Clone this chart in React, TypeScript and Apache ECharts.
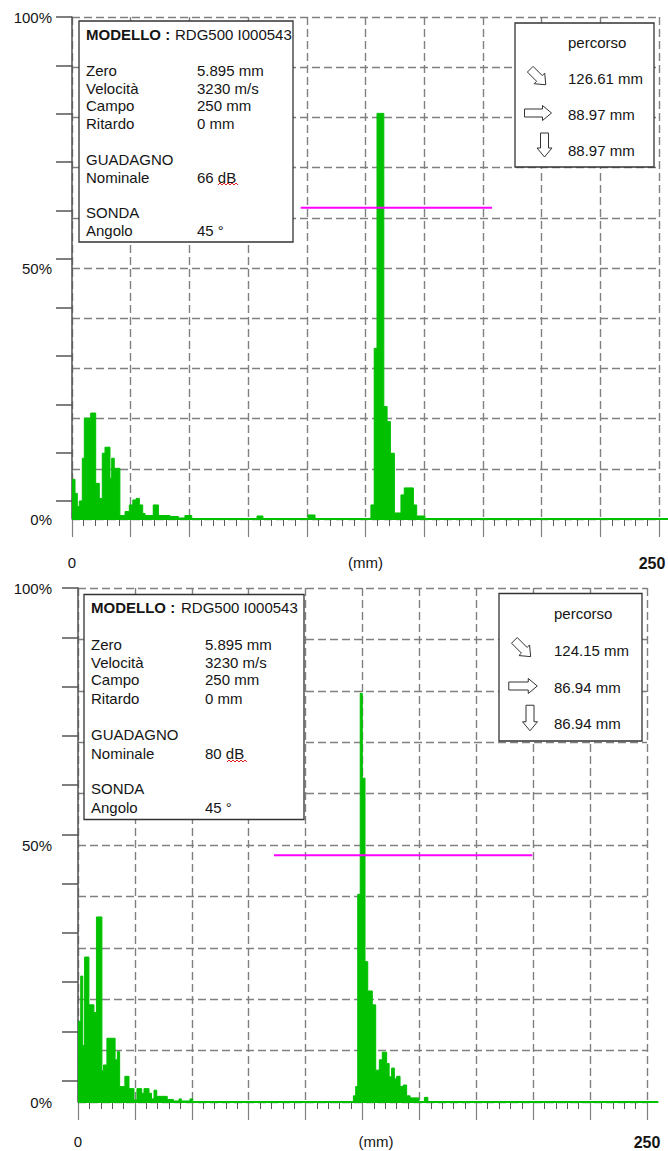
import React, { useEffect, useRef } from 'react';
import * as echarts from 'echarts';

// ---------- data ----------
// Upper A-scan: distance (mm) where each step starts, amplitude (% FSH)
const TOP_DIST = [0, 1.28, 2.26, 3.11, 4.39, 5.24, 7.96, 10.09, 11.63, 12.9, 14.05, 16.18, 16.9, 18.0, 20.4, 22.6, 24.4, 25.9, 27.3, 28.7, 30.1, 31.1, 34.6, 36.8, 41.7, 45.3, 48.1, 51.0, 78.8, 81.3, 100.5, 103.5, 127.3, 128.7, 129.9, 132.8, 134.2, 135.6, 137.3, 140.1, 141.5, 145.4, 146.8, 150.3, 250];
const TOP_AMP = [7.9, 5.1, 2.5, 3.6, 12.1, 20.1, 21.1, 7.1, 4.1, 13.1, 14.3, 8.1, 12.1, 10.1, 0.7, 1.5, 2.8, 3.8, 4.1, 2.8, 1.1, 0.7, 2.8, 0.7, 0.5, 0.2, 0.7, 0, 0.6, 0, 0.8, 0, 2.8, 34, 80.8, 22.4, 19.4, 13.1, 1.2, 4.8, 6.2, 2.8, 0.6, 0, 0];

// Lower A-scan
const BOT_DIST = [0, 1.2, 2.1, 2.9, 4.8, 7.0, 8.1, 10.5, 11.2, 12.7, 16.3, 17.3, 18.3, 20.6, 22.4, 24.6, 25.9, 28.0, 29.0, 31.2, 32.3, 33.4, 34.6, 39.2, 41.9, 44.4, 45.4, 49.2, 50.4, 121.0, 122.0, 122.9, 124.0, 124.9, 126.1, 127.3, 129.3, 130.8, 132.4, 133.7, 135.6, 136.7, 137.8, 139.0, 140.0, 141.5, 142.9, 144.4, 145.9, 149.8, 152.2, 153.7, 250];
const BOT_AMP = [15.7, 24.5, 11.0, 28.2, 18.9, 17.4, 36.0, 6.1, 7.2, 12.4, 8.2, 9.8, 3.0, 5.0, 2.6, 0.4, 2.6, 1.7, 2.6, 1.7, 0.6, 2.3, 1.1, 0.5, 0.2, 0.6, 0.2, 0.6, 0, 1.2, 3.0, 40.4, 79.5, 63.0, 27.3, 21.6, 18.9, 6.2, 8.2, 9.7, 7.5, 4.9, 6.6, 4.5, 5.0, 3.0, 3.3, 1.2, 0.8, 0, 0.9, 0, 0];

// Gates (magenta)
const TOP_GATE_DIST = [97.4, 178.9];
const TOP_GATE_AMP = [62, 62];
const BOT_GATE_DIST = [86.1, 199.6];
const BOT_GATE_AMP = [48, 48];

// Axis
const X_MIN = 0;
const X_MAX = 250;
const X_STEP = 25;
const Y_LABELS = [0, 50, 100];
const SIDE_TICKS = [0, 1, 2, 3, 4, 5, 6, 7, 8, 9, 10];
const X_NAME = '(mm)';

// Info box texts
const MODEL_TITLE = 'MODELLO :';
const MODEL_VALUE = 'RDG500 I000543';
const INFO_LABELS = ['Zero', 'Velocità', 'Campo', 'Ritardo', 'GUADAGNO', 'Nominale', 'SONDA', 'Angolo'];
const TOP_INFO_VALUES = ['5.895 mm', '3230 m/s', '250 mm', '0 mm', '', '66 dB', '', '45 °'];
const BOT_INFO_VALUES = ['5.895 mm', '3230 m/s', '250 mm', '0 mm', '', '80 dB', '', '45 °'];
const PATH_TITLE = 'percorso';
const TOP_PATH = ['126.61 mm', '88.97 mm', '88.97 mm'];
const BOT_PATH = ['124.15 mm', '86.94 mm', '86.94 mm'];

// ---------- styling / layout ----------
const GREEN = '#00c000';
const MAGENTA = '#ff00ff';
const GRID_GRAY = '#808080';
const TEXT = '#151515';
const FONT = "'Liberation Sans', Arial, Helvetica, sans-serif";

const PANELS = [
  {
    dist: TOP_DIST, amp: TOP_AMP, gateD: TOP_GATE_DIST, gateA: TOP_GATE_AMP,
    values: TOP_INFO_VALUES, path: TOP_PATH,
    grid: { left: 72, top: 17, width: 587, height: 502 },
    baseEnd: 254, tickMax: 10.37, yLabelMargin: 20, xLabelMargin: 36, pad250: 14, nameGap: 36, namePadLeft: 0,
    box: { x: 79, y: 21, w: 214, h: 221 }, textX: 86, valX: 197, modelY: 34, modelValX: 175,
    rowYs: [70.5, 88, 105.5, 123, 159, 177.5, 212, 230],
    pbox: { x: 515, y: 23, w: 139, h: 144 }, ptextX: 568, pYs: [42, 78.5, 114, 150],
    arrows: { diag: [538, 77, 22], right: [538, 113, 27], down: [544.5, 145, 24] },
    squiggle: { x0: 218, x1: 238, y: 184 },
  },
  {
    dist: BOT_DIST, amp: BOT_AMP, gateD: BOT_GATE_DIST, gateA: BOT_GATE_AMP,
    values: BOT_INFO_VALUES, path: BOT_PATH,
    grid: { left: 78, top: 588, width: 569, height: 514 },
    baseEnd: 255, tickMax: 10.43, yLabelMargin: 26, xLabelMargin: 32, pad250: 0, nameGap: 32, namePadLeft: 27,
    box: { x: 84, y: 594.5, w: 220, h: 225 }, textX: 91, valX: 205, modelY: 607.5, modelValX: 181,
    rowYs: [644, 662, 679.5, 698, 734.5, 753.5, 788.5, 807.5],
    pbox: { x: 499, y: 593.5, w: 143, h: 147.5 }, ptextX: 554, pYs: [613.5, 650, 687, 723.5],
    arrows: { diag: [522.5, 648.5, 23], right: [523, 686, 28.5], down: [530, 718, 25.5] },
    squiggle: { x0: 227, x1: 247, y: 761 },
  },
];

function arrowPoints(cx: number, cy: number, angleDeg: number, len: number) {
  const sh = 4, hh = 7.5, hl = 9;
  const base = [
    [-len / 2, -sh], [len / 2 - hl, -sh], [len / 2 - hl, -hh], [len / 2, 0],
    [len / 2 - hl, hh], [len / 2 - hl, sh], [-len / 2, sh],
  ];
  const a = (angleDeg * Math.PI) / 180;
  const c = Math.cos(a), s = Math.sin(a);
  return base.map(([u, v]) => [cx + u * c - v * s, cy + u * s + v * c]);
}

function txt(text: string, x: number, y: number, opts: any = {}) {
  return {
    type: 'text', x, y, z: 120,
    style: {
      text, fill: TEXT,
      font: `${opts.bold ? 'bold ' : ''}${opts.size || 15}px ${FONT}`,
      align: opts.align || 'left', textAlign: opts.align || 'left',
      verticalAlign: 'middle', textVerticalAlign: 'middle',
    },
  };
}

function buildOption() {
  const grid: any[] = [];
  const xAxis: any[] = [];
  const yAxis: any[] = [];
  const series: any[] = [];
  const graphic: any[] = [];

  PANELS.forEach((p) => {
    const gMain = grid.length;
    grid.push({ ...p.grid, containLabel: false, outerBoundsMode: 'none' });
    const gBase = grid.length;
    grid.push({
      left: p.grid.left, top: p.grid.top, height: p.grid.height,
      width: (p.grid.width * p.baseEnd) / X_MAX, containLabel: false, outerBoundsMode: 'none',
    });

    const xMain = xAxis.length;
    xAxis.push({
      type: 'value', gridIndex: gMain, min: X_MIN, max: X_MAX, interval: X_STEP,
      axisLine: { show: false },
      axisTick: { show: true, length: 18, lineStyle: { color: GRID_GRAY, width: 1.2 } },
      minorTick: { show: true, splitNumber: 5, length: 7, lineStyle: { color: '#5a5a5a', width: 1 } },
      splitLine: { show: true, lineStyle: { color: GRID_GRAY, type: [8, 4], width: 1.4 } },
      axisLabel: {
        show: true, margin: p.xLabelMargin, color: TEXT, fontSize: 15, fontFamily: FONT,
        formatter: (v: number) => (v === X_MIN ? String(X_MIN) : v === X_MAX ? `{b|${X_MAX}}` : ''),
        rich: { b: { fontWeight: 'bold', fontSize: 16, fontFamily: FONT, color: TEXT, padding: [0, p.pad250, 0, 0] } },
      },
      name: X_NAME, nameLocation: 'middle', nameGap: p.nameGap, nameMoveOverlap: false,
      nameTextStyle: { color: TEXT, fontSize: 15, fontFamily: FONT, padding: [0, 0, 0, p.namePadLeft], verticalAlign: 'top' },
    });
    const xBase = xAxis.length;
    xAxis.push({
      type: 'value', gridIndex: gBase, min: X_MIN, max: p.baseEnd, show: false,
      axisLine: { show: false }, axisTick: { show: false }, axisLabel: { show: false }, splitLine: { show: false },
    });

    const yMain = yAxis.length;
    yAxis.push({
      type: 'value', gridIndex: gMain, position: 'left', min: 0, max: 100, interval: 10,
      axisLine: { show: false }, axisTick: { show: false },
      splitLine: { show: true, lineStyle: { color: GRID_GRAY, type: [8, 4], width: 1.4 } },
      axisLabel: {
        show: true, margin: p.yLabelMargin, color: TEXT, fontSize: 15, fontFamily: FONT,
        formatter: (v: number) => (Y_LABELS.includes(v) ? `${v}%` : ''),
      },
    });
    yAxis.push({
      type: 'value', gridIndex: gMain, position: 'left', inverse: true, min: 0, max: p.tickMax, interval: 1,
      axisLine: { show: true, lineStyle: { color: '#555', width: 1.5 } },
      axisTick: { show: true, length: 16, customValues: SIDE_TICKS, lineStyle: { color: '#555', width: 1.5 } },
      axisLabel: { show: false }, splitLine: { show: false },
    });
    const yBase = yAxis.length;
    yAxis.push({
      type: 'value', gridIndex: gBase, min: 0, max: 100, show: false,
      axisLine: { show: false }, axisTick: { show: false }, axisLabel: { show: false }, splitLine: { show: false },
    });

    series.push({
      type: 'line', xAxisIndex: xMain, yAxisIndex: yMain, step: 'end', symbol: 'none', showSymbol: false,
      data: p.dist.map((d, i) => [d, p.amp[i]]),
      lineStyle: { color: GREEN, width: 1 },
      areaStyle: { color: GREEN, opacity: 1 },
      z: 3,
    });
    series.push({
      type: 'line', xAxisIndex: xBase, yAxisIndex: yBase, symbol: 'none', showSymbol: false,
      data: [[X_MIN, 0], [p.baseEnd, 0]],
      lineStyle: { color: GREEN, width: 2 }, z: 4,
    });
    series.push({
      type: 'line', xAxisIndex: xMain, yAxisIndex: yMain, symbol: 'none', showSymbol: false,
      data: p.gateD.map((d, i) => [d, p.gateA[i]]),
      lineStyle: { color: MAGENTA, width: 2 }, z: 5,
    });

    // info box
    graphic.push({
      type: 'rect', z: 110,
      shape: { x: p.box.x, y: p.box.y, width: p.box.w, height: p.box.h },
      style: { fill: '#fff', stroke: '#333', lineWidth: 1.3 },
    });
    graphic.push(txt(MODEL_TITLE, p.textX, p.modelY, { bold: true }));
    graphic.push(txt(MODEL_VALUE, p.modelValX, p.modelY));
    INFO_LABELS.forEach((lab, i) => {
      graphic.push(txt(lab, p.textX, p.rowYs[i]));
      if (p.values[i]) graphic.push(txt(p.values[i], p.valX, p.rowYs[i]));
    });
    // spell-check squiggle under "dB"
    const sq: number[][] = [];
    for (let x = p.squiggle.x0, k = 0; x <= p.squiggle.x1; x += 2, k++) {
      sq.push([x, p.squiggle.y + (k % 2 === 0 ? 1 : -1)]);
    }
    graphic.push({ type: 'polyline', z: 121, shape: { points: sq }, style: { stroke: '#e02020', lineWidth: 1, fill: null } });

    // path box
    graphic.push({
      type: 'rect', z: 110,
      shape: { x: p.pbox.x, y: p.pbox.y, width: p.pbox.w, height: p.pbox.h },
      style: { fill: '#fff', stroke: '#333', lineWidth: 1.3 },
    });
    graphic.push(txt(PATH_TITLE, p.ptextX, p.pYs[0]));
    p.path.forEach((v, i) => graphic.push(txt(v, p.ptextX, p.pYs[i + 1])));
    const arrowDefs: [number[], number][] = [
      [p.arrows.diag, 45], [p.arrows.right, 0], [p.arrows.down, 90],
    ];
    arrowDefs.forEach(([a, ang]) => {
      graphic.push({
        type: 'polygon', z: 121,
        shape: { points: arrowPoints(a[0], a[1], ang, a[2]) },
        style: { fill: '#fff', stroke: '#333', lineWidth: 1 },
      });
    });
  });

  return { animation: false, backgroundColor: '#fff', grid, xAxis, yAxis, series, graphic };
}

export default function App() {
  const ref = useRef<HTMLDivElement>(null);
  useEffect(() => {
    document.body.style.margin = '0';
    if (!ref.current) return;
    const chart = echarts.init(ref.current, null, { renderer: 'svg' });
    chart.setOption(buildOption() as any);
    return () => chart.dispose();
  }, []);
  return <div ref={ref} style={{ width: 668, height: 1151 }} />;
}
